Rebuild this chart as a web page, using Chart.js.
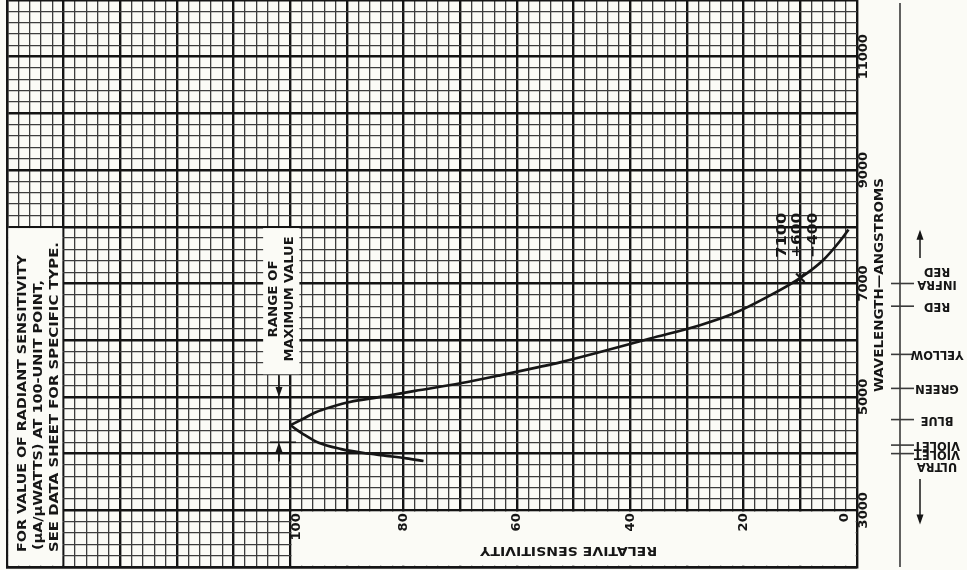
<!DOCTYPE html>
<html>
<head>
<meta charset="utf-8">
<script src="https://cdn.jsdelivr.net/npm/chart.js@4"></script>
<style>
  html, body { margin: 0; padding: 0; background: #fbfbf6; overflow: hidden; }
  canvas { display: block; }
</style>
</head>
<body>
<canvas id="c" width="967" height="570"></canvas>
<script>
// Spectral response: relative sensitivity (%) against wavelength (angstroms).
// Long-wavelength side of the response, starting at the peak.
const upperSensitivity = [100, 98, 95.5, 92.5, 89.5, 84, 78, 70, 63, 56, 52.4, 45, 36.5, 27.7, 21.8, 15.9, 10, 5.9, 3, 1.5];
const upperWavelength  = [4500, 4600, 4730, 4830, 4910, 5000, 5105, 5240, 5380, 5530, 5610, 5800, 6030, 6265, 6470, 6760, 7100, 7420, 7750, 7950];
// Short-wavelength side of the response, starting at the peak.
const lowerSensitivity = [100, 97.5, 95, 91, 87, 83, 79.5, 76.5];
const lowerWavelength  = [4500, 4330, 4190, 4080, 4010, 3960, 3915, 3870];
// 10-percent point on the red side and its tolerance.
const cutoffSensitivity = [10];
const cutoffWavelength  = [7100];
const cutoffNote = ['7100', '+600', '\u2212400'];
// Range within which the maximum may fall.
const peakRange = [4200, 5000];
// Axis labels.
const sensitivityTicks = [100, 80, 60, 40, 20, 0];
const wavelengthTicks  = [3000, 5000, 7000, 9000, 11000];
// Colour scale beside the wavelength axis.
const bandLabels = [['INFRA', 'RED'], ['RED'], ['YELLOW'], ['GREEN'], ['BLUE'], ['VIOLET'], ['ULTRA', 'VIOLET']];
const bandWavelength = [7000, 6600, 5750, 5150, 4600, 4150, 4000];
const bandAnchorLine = [0, 0, 0, 0, 0, 0, 1];

const PAPER = '#fbfbf6';
const INK = '#161616';
const UP = -Math.PI / 2;
const FLIP = Math.PI;
const FONT = '"DejaVu Sans", "Liberation Sans", sans-serif';

function text(ctx, s, x, y, rot, font, align, width) {
  ctx.save();
  ctx.translate(x, y);
  ctx.rotate(rot);
  ctx.font = font;
  ctx.textAlign = align;
  ctx.textBaseline = 'middle';
  if (width) {
    const w = ctx.measureText(s).width;
    ctx.scale(width / w, 1);
  }
  ctx.fillStyle = INK;
  ctx.fillText(s, 0, 0);
  ctx.restore();
}

function arrow(ctx, x, y0, y1) {
  const dir = Math.sign(y1 - y0);
  ctx.beginPath();
  ctx.moveTo(x, y0);
  ctx.lineTo(x, y1 - dir * 6);
  ctx.stroke();
  ctx.beginPath();
  ctx.moveTo(x, y1);
  ctx.lineTo(x - 3.5, y1 - dir * 10);
  ctx.lineTo(x + 3.5, y1 - dir * 10);
  ctx.closePath();
  ctx.fill();
}

const paperPlugin = {
  id: 'paper',
  beforeDraw(chart) {
    const ctx = chart.ctx;
    ctx.save();
    ctx.fillStyle = PAPER;
    ctx.fillRect(0, 0, chart.width, chart.height);
    ctx.restore();
  },
  // blank panels cut out of the grid for the lettering
  beforeDatasetsDraw(chart) {
    const ctx = chart.ctx, X = chart.scales.x, Y = chart.scales.y;
    const px = v => X.getPixelForValue(v), py = v => Y.getPixelForValue(v);
    ctx.save();
    ctx.fillStyle = PAPER;
    const box = (s0, s1, w0, w1, inset) => {
      const l = Math.min(px(s0), px(s1)) + inset[0];
      const r = Math.max(px(s0), px(s1)) - inset[1];
      const t = Math.min(py(w0), py(w1)) + inset[2];
      const b = Math.max(py(w0), py(w1)) - inset[3];
      ctx.fillRect(l, t, r - l, b - t);
    };
    box(100, 0, 2000, 3000, [1.3, 1.3, 1.3, 1.3]);
    box(150, 140, 2000, 8000, [1.3, 1.3, 1.3, 1.3]);
    box(104.8, 98.4, 5400, 8000, [0, 0, 1.3, 0]);
    ctx.restore();
  },
  afterDatasetsDraw(chart) {
    const ctx = chart.ctx, X = chart.scales.x, Y = chart.scales.y, area = chart.chartArea;
    const px = v => X.getPixelForValue(v), py = v => Y.getPixelForValue(v);
    ctx.save();
    ctx.strokeStyle = INK;
    ctx.fillStyle = INK;

    // sensitivity scale, kept inside its panel
    sensitivityTicks.forEach(v => {
      const x = Math.max(px(100) + 6, Math.min(px(v), area.right - 12));
      text(ctx, String(v), x, py(3000) + 3, UP, 'bold 13px ' + FONT, 'right');
    });
    text(ctx, 'RELATIVE SENSITIVITY', (px(100) + px(0)) / 2 - 5, 550, FLIP, 'bold 12px ' + FONT, 'center', 177);

    // wavelength scale
    wavelengthTicks.forEach(v => {
      text(ctx, String(v), area.right + 7, py(v), UP, 'bold 13px ' + FONT, 'center');
    });
    text(ctx, 'WAVELENGTH\u2014ANGSTROMS', area.right + 23, 285, UP, 'bold 13px ' + FONT, 'center', 214);

    // note on absolute sensitivity
    text(ctx, 'FOR VALUE OF RADIANT SENSITIVITY', 23, 552, UP, 'bold 12px ' + FONT, 'left', 297);
    text(ctx, '(\u03bcA/\u03bcWATTS) AT 100-UNIT POINT,', 39, 550, UP, 'bold 12px ' + FONT, 'left', 270);
    text(ctx, 'SEE DATA SHEET FOR SPECIFIC TYPE.', 55, 552, UP, 'bold 12px ' + FONT, 'left', 310);

    // range of maximum value
    text(ctx, 'RANGE OF', px(102.9), 299, UP, 'bold 12px ' + FONT, 'center', 77);
    text(ctx, 'MAXIMUM VALUE', px(100.1), 299, UP, 'bold 12px ' + FONT, 'center', 125);
    ctx.lineWidth = 1.6;
    peakRange.forEach(w => {
      ctx.beginPath();
      ctx.moveTo(px(103.6), py(w));
      ctx.lineTo(px(99), py(w));
      ctx.stroke();
    });
    arrow(ctx, px(102), py(5400) + 1, py(peakRange[1]));
    arrow(ctx, px(102), py(3860), py(peakRange[0]));

    // tolerance of the 10-percent point
    const cx = px(cutoffSensitivity[0]), cy = py(cutoffWavelength[0]);
    [-18, -3, 13].forEach((dx, i) => {
      text(ctx, cutoffNote[i], cx + dx, cy - 20, UP, 'bold 14px ' + FONT, 'left', 45);
    });

    // colour scale
    const lx = 900;
    ctx.lineWidth = 1.6;
    ctx.strokeStyle = '#3a3a3a';
    ctx.beginPath();
    ctx.moveTo(lx, 3);
    ctx.lineTo(lx, 567);
    ctx.stroke();
    bandWavelength.forEach((w, i) => {
      const y = py(w);
      ctx.beginPath();
      ctx.moveTo(lx - 9, y);
      ctx.lineTo(lx + 14, y);
      ctx.stroke();
      const lines = bandLabels[i];
      lines.forEach((s, j) => {
        const ly = y - (j - bandAnchorLine[i]) * 12.5;
        text(ctx, s, 937, ly, FLIP, 'bold 11.5px ' + FONT, 'center');
      });
    });
    ctx.strokeStyle = INK;
    ctx.lineWidth = 1.5;
    arrow(ctx, 920, py(7450), py(7950));
    arrow(ctx, 920, py(3550), py(2750));
    ctx.restore();
  }
};

const gridStyle = major => ({
  color: ctx => (ctx.tick && ctx.tick.value % major === 0) ? '#141414' : '#3d3d3d',
  lineWidth: ctx => (ctx.tick && ctx.tick.value % major === 0) ? 2.4 : 1.3,
  drawTicks: false
});

new Chart(document.getElementById('c'), {
  type: 'scatter',
  data: {
    datasets: [
      {
        data: upperSensitivity.map((s, i) => ({ x: s, y: upperWavelength[i] })),
        showLine: true, borderColor: INK, borderWidth: 2.7, pointRadius: 0,
        cubicInterpolationMode: 'monotone', fill: false
      },
      {
        data: lowerSensitivity.map((s, i) => ({ x: s, y: lowerWavelength[i] })),
        showLine: true, borderColor: INK, borderWidth: 2.7, pointRadius: 0,
        cubicInterpolationMode: 'monotone', fill: false
      },
      {
        data: cutoffSensitivity.map((s, i) => ({ x: s, y: cutoffWavelength[i] })),
        showLine: false, pointStyle: 'crossRot', pointRadius: 6,
        pointBorderWidth: 2.2, borderColor: INK, backgroundColor: INK
      }
    ]
  },
  options: {
    responsive: false,
    devicePixelRatio: 1,
    animation: false,
    events: [],
    layout: { autoPadding: false, padding: { left: 7, right: 110, top: 0, bottom: 3 } },
    plugins: { legend: { display: false }, tooltip: { enabled: false } },
    scales: {
      x: {
        type: 'linear', reverse: true, min: 0, max: 150,
        ticks: { display: false, stepSize: 2, maxTicksLimit: 1000 },
        grid: gridStyle(10),
        border: { display: true, color: INK, width: 2.4 }
      },
      y: {
        type: 'linear', min: 2000, max: 12000,
        ticks: { display: false, stepSize: 200, maxTicksLimit: 1000 },
        grid: gridStyle(1000),
        border: { display: true, color: INK, width: 2.4 }
      }
    }
  },
  plugins: [paperPlugin]
});
</script>
</body>
</html>
